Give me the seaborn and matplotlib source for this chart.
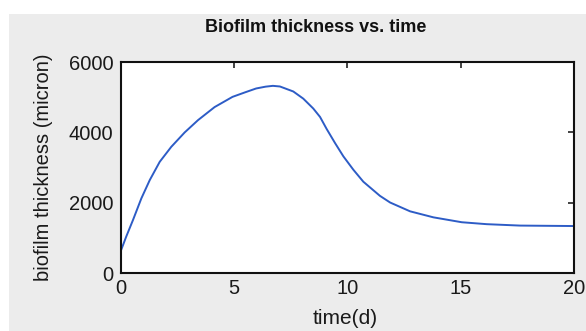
import matplotlib
matplotlib.use("Agg")
import matplotlib.pyplot as plt
import seaborn as sns
import pandas as pd
from matplotlib.patches import Rectangle

time_d = [0.0, 0.25, 0.55, 0.92, 1.29, 1.73, 2.24, 2.83, 3.42, 4.15, 4.94, 5.5,
          5.98, 6.4, 6.72, 7.03, 7.62, 8.06, 8.5, 8.8, 9.09, 9.46, 9.83, 10.27,
          10.71, 11.44, 11.89, 12.77, 13.8, 15.05, 16.15, 17.62, 20.0]
thickness = [613, 1038, 1512, 2128, 2647, 3166, 3592, 4000, 4350, 4720, 5010, 5140,
             5248, 5300, 5323, 5305, 5163, 4960, 4680, 4440, 4100, 3700, 3320, 2940,
             2600, 2200, 2010, 1760, 1589, 1450, 1395, 1355, 1342]
x_ticks = [0, 5, 10, 15, 20]
y_ticks = [0, 2000, 4000, 6000]

df = pd.DataFrame({"time": time_d, "thickness": thickness})

sns.set_style("white")
plt.rcParams["font.family"] = ["Liberation Sans", "DejaVu Sans"]

W, H = 586, 331
fig = plt.figure(figsize=(W / 100, H / 100), dpi=100, facecolor="white")
fig.patches.append(Rectangle((9 / W, 0), 1 - 9 / W, 1 - 14 / H, transform=fig.transFigure,
                             facecolor="#ececec", edgecolor="none", zorder=-10))

ax = fig.add_axes([120.5 / W, 1 - 273.3 / H, (574 - 120.5) / W, (273.3 - 62) / H])
ax.set_facecolor("white")
sns.lineplot(data=df, x="time", y="thickness", ax=ax, color="#2d5cc6", linewidth=1.4)

ax.set_xlim(0, 20)
ax.set_ylim(0, 6000)
ax.set_xticks(x_ticks)
ax.set_yticks(y_ticks)
ax.set_xticklabels([str(v) for v in x_ticks])
ax.set_yticklabels([str(v) for v in y_ticks])
ax.tick_params(direction="in", length=4, width=1.2, labelsize=14.5, colors="#222222",
               top=True, right=True, labelcolor="#1a1a1a")
ax.tick_params(axis="x", pad=4)
ax.tick_params(axis="y", pad=5)
for s in ax.spines.values():
    s.set_visible(True)
    s.set_color("#111111")
    s.set_linewidth(1.5)

ax.set_xlabel("time(d)", fontsize=15, color="#1a1a1a")
ax.set_ylabel("biofilm thickness (micron)", fontsize=14.5, color="#1a1a1a")
ax.xaxis.label.set_va("center")
ax.xaxis.set_label_coords(0.495, -0.216)
ax.yaxis.label.set_va("center")
ax.yaxis.set_label_coords(-0.169, 0.5)

fig.text(316 / W, 1 - 27.5 / H, "Biofilm thickness vs. time", fontsize=13, fontweight="bold",
         ha="center", va="center", color="#111111")

fig.savefig("out.png", dpi=100, facecolor=fig.get_facecolor())
